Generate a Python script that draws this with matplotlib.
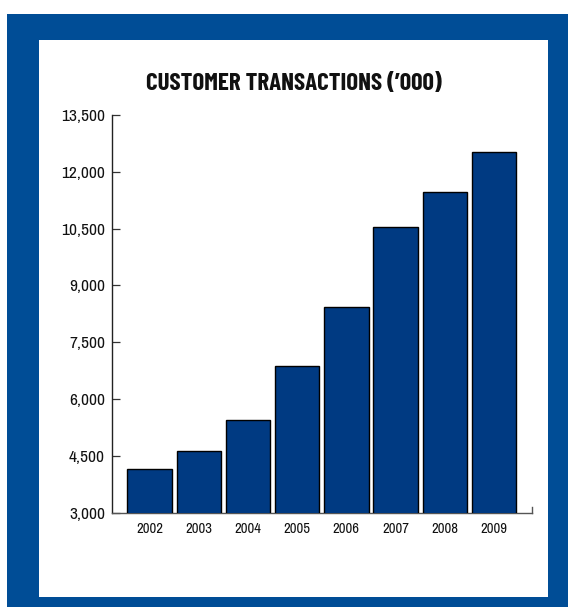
import matplotlib
matplotlib.use("Agg")
import matplotlib.pyplot as plt
from matplotlib.patches import Rectangle
from matplotlib.ticker import FuncFormatter

years = ["2002", "2003", "2004", "2005", "2006", "2007", "2008", "2009"]
transactions = [4150, 4620, 5450, 6875, 8440, 10540, 11480, 12510]
yticks = [3000, 4500, 6000, 7500, 9000, 10500, 12000, 13500]

FONT = ["Archivo Narrow", "Barlow Condensed", "DejaVu Sans"]
TFONT = ["Barlow Condensed", "Archivo Narrow", "DejaVu Sans"]
FRAME = "#004D96"
BAR = "#003A82"

W, H = 568, 607
fig = plt.figure(figsize=(W / 100, H / 100), dpi=100)
fig.patch.set_facecolor("white")

# blue frame and white inner panel
fig.patches.append(Rectangle((7 / W, 0), 1 - 7 / W, 1 - 14 / H, transform=fig.transFigure,
                             facecolor=FRAME, edgecolor="none", zorder=-10))
fig.patches.append(Rectangle((39 / W, 10 / H), (548 - 39) / W, (597 - 40) / H,
                             transform=fig.transFigure, facecolor="white",
                             edgecolor="none", zorder=-9))

ax = fig.add_axes([112 / W, (H - 512.7) / H, 420 / W, (512.7 - 115) / H])
ax.set_facecolor("none")
x = list(range(len(years)))
ax.bar(x, transactions, width=0.9, color=BAR, edgecolor="black", linewidth=1.0, zorder=3)

ax.set_xlim(-0.76, len(years) - 1 + 0.77)
ax.set_ylim(3000, 13500)
ax.set_yticks(yticks)
ax.yaxis.set_major_formatter(FuncFormatter(lambda v, p: f"{int(v):,}"))
ax.set_xticks(x)
ax.set_xticklabels(years)

ax.spines["top"].set_visible(False)
ax.spines["left"].set_color("#222222")
ax.spines["bottom"].set_color("#555555")
ax.spines["left"].set_linewidth(1.0)
ax.spines["bottom"].set_linewidth(1.0)
ax.spines["right"].set_color("#555555")
ax.spines["right"].set_linewidth(1.0)
ax.spines["right"].set_bounds(3000, 3150)

ax.tick_params(axis="y", direction="in", length=6, width=0.9, color="#333333",
               pad=5, labelsize=12.5)
ax.tick_params(axis="x", length=0, pad=7, labelsize=10.5)
for lab in ax.get_yticklabels() + ax.get_xticklabels():
    lab.set_family(FONT)
    lab.set_color("#111111")

fig.text(293.5 / W, 1 - 84.5 / H, "CUSTOMER TRANSACTIONS (\u2019000)", ha="center", va="center",
         fontsize=18, fontweight="bold", family=TFONT, color="#111111")

fig.savefig("out.png", dpi=100)
